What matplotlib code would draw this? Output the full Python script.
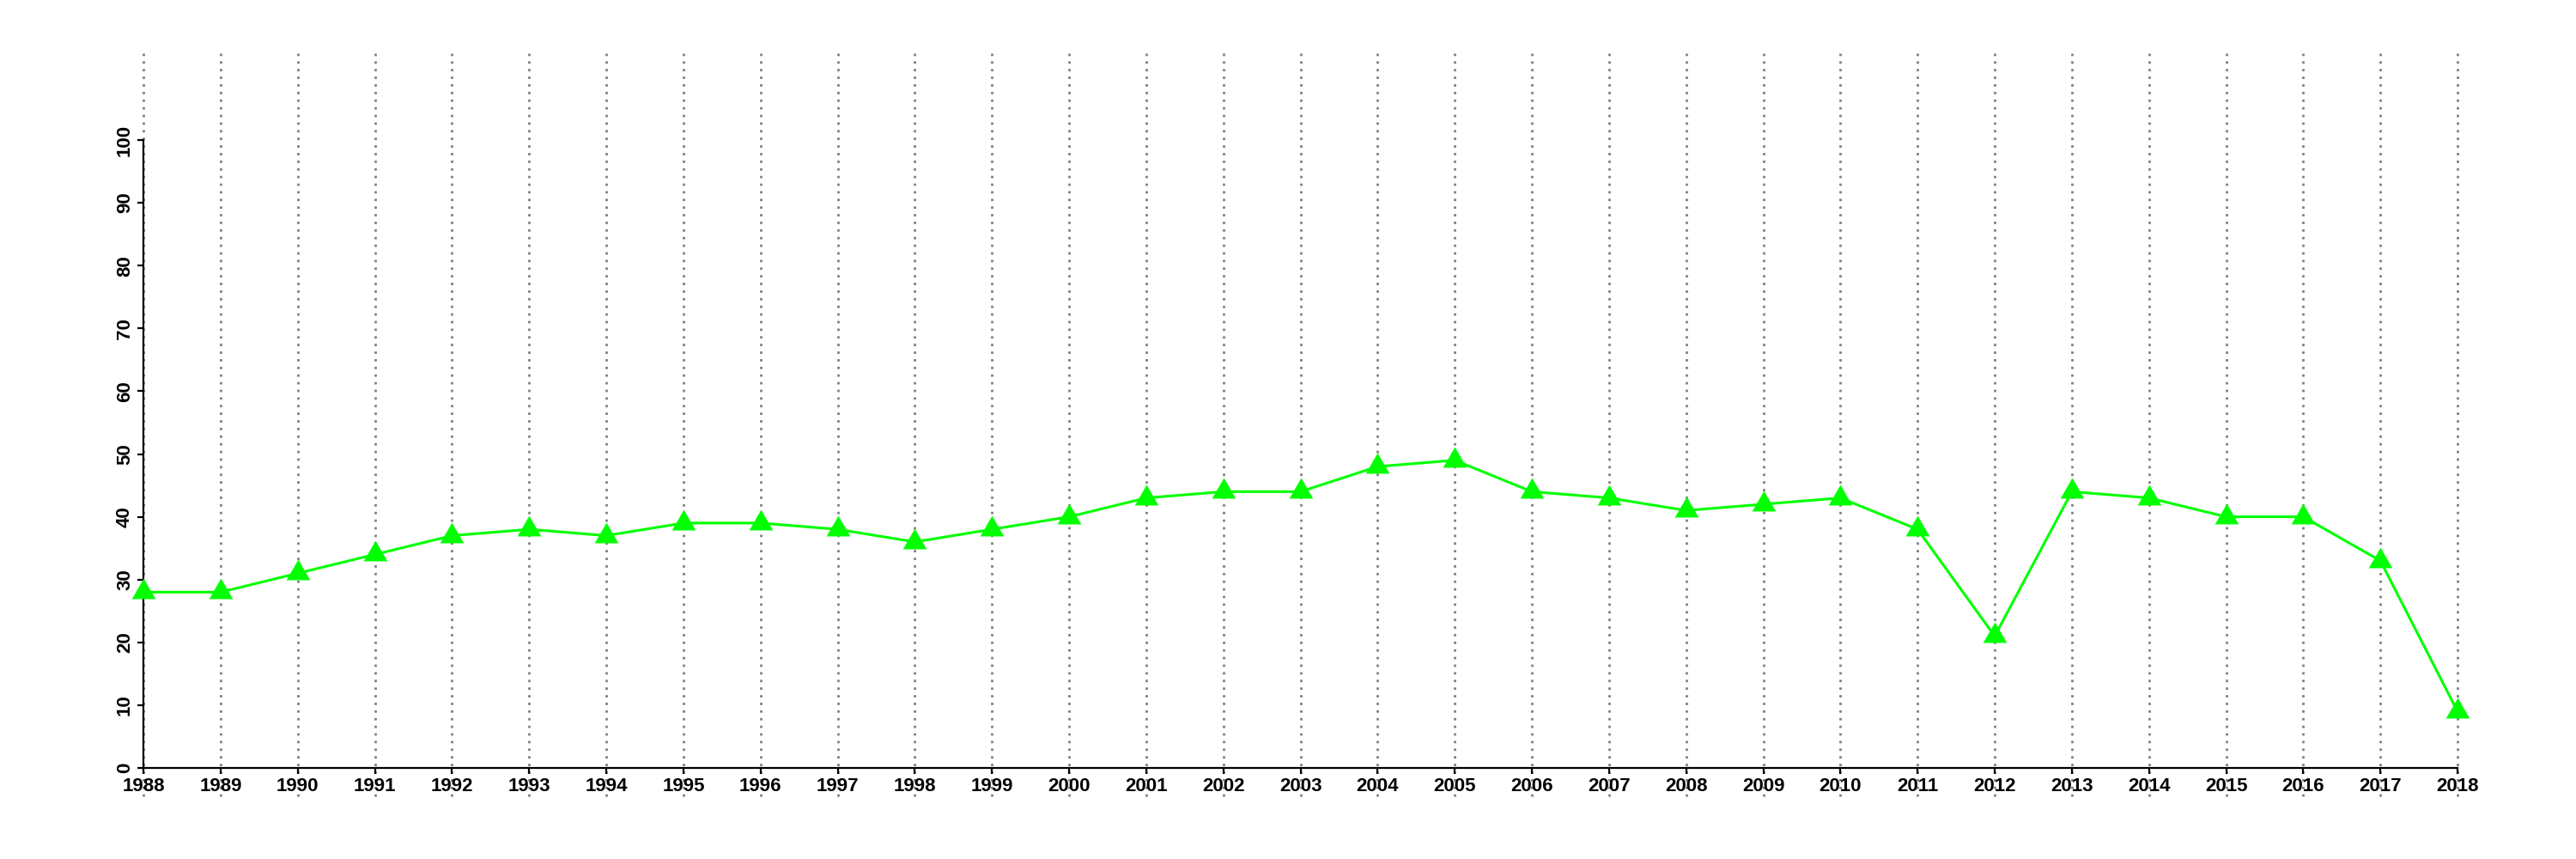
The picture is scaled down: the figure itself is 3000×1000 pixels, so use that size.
import matplotlib

matplotlib.use("Agg")
import matplotlib.pyplot as plt

years = list(range(1988, 2019))
values = [28, 28, 31, 34, 37, 38, 37, 39, 39, 38, 36, 38, 40, 43, 44, 44,
          48, 49, 44, 43, 41, 42, 43, 38, 21, 44, 43, 40, 40, 33, 9]
y_ticks = [0, 10, 20, 30, 40, 50, 60, 70, 80, 90, 100]

plt.rcParams["font.family"] = ["Liberation Sans", "DejaVu Sans"]

fig = plt.figure(figsize=(30, 10), dpi=100)
ax = fig.add_axes([0.0557, 0.106, 0.8983, 0.731])

# dotted year lines run past the plot box, as in the original
for yr in years:
    ax.plot([yr, yr], [-4.5, 114.2], color="#808080", linestyle=(0, (1.0, 2.2)),
            linewidth=2.0, clip_on=False, zorder=1)

tri = [(0, 1.0), (-0.866, -0.5), (0.866, -0.5)]
ax.plot(years, values, color="#00ff00", linewidth=2.2, marker=tri,
        markersize=23, markeredgewidth=0, zorder=3, clip_on=False)

ax.set_xlim(1988, 2018)
ax.set_ylim(0, 100)
ax.set_xticks(years)
ax.set_xticklabels([str(y) for y in years])
ax.set_yticks(y_ticks)
ax.set_yticklabels([str(v) for v in y_ticks], rotation=90, va="center")

for side in ("top", "right"):
    ax.spines[side].set_visible(False)
for side in ("left", "bottom"):
    ax.spines[side].set_linewidth(1.6)
ax.tick_params(axis="both", length=5, width=1.6, labelsize=16, pad=3)
for lab in ax.get_xticklabels() + ax.get_yticklabels():
    lab.set_fontweight("bold")

fig.savefig("out.png", dpi=100)
